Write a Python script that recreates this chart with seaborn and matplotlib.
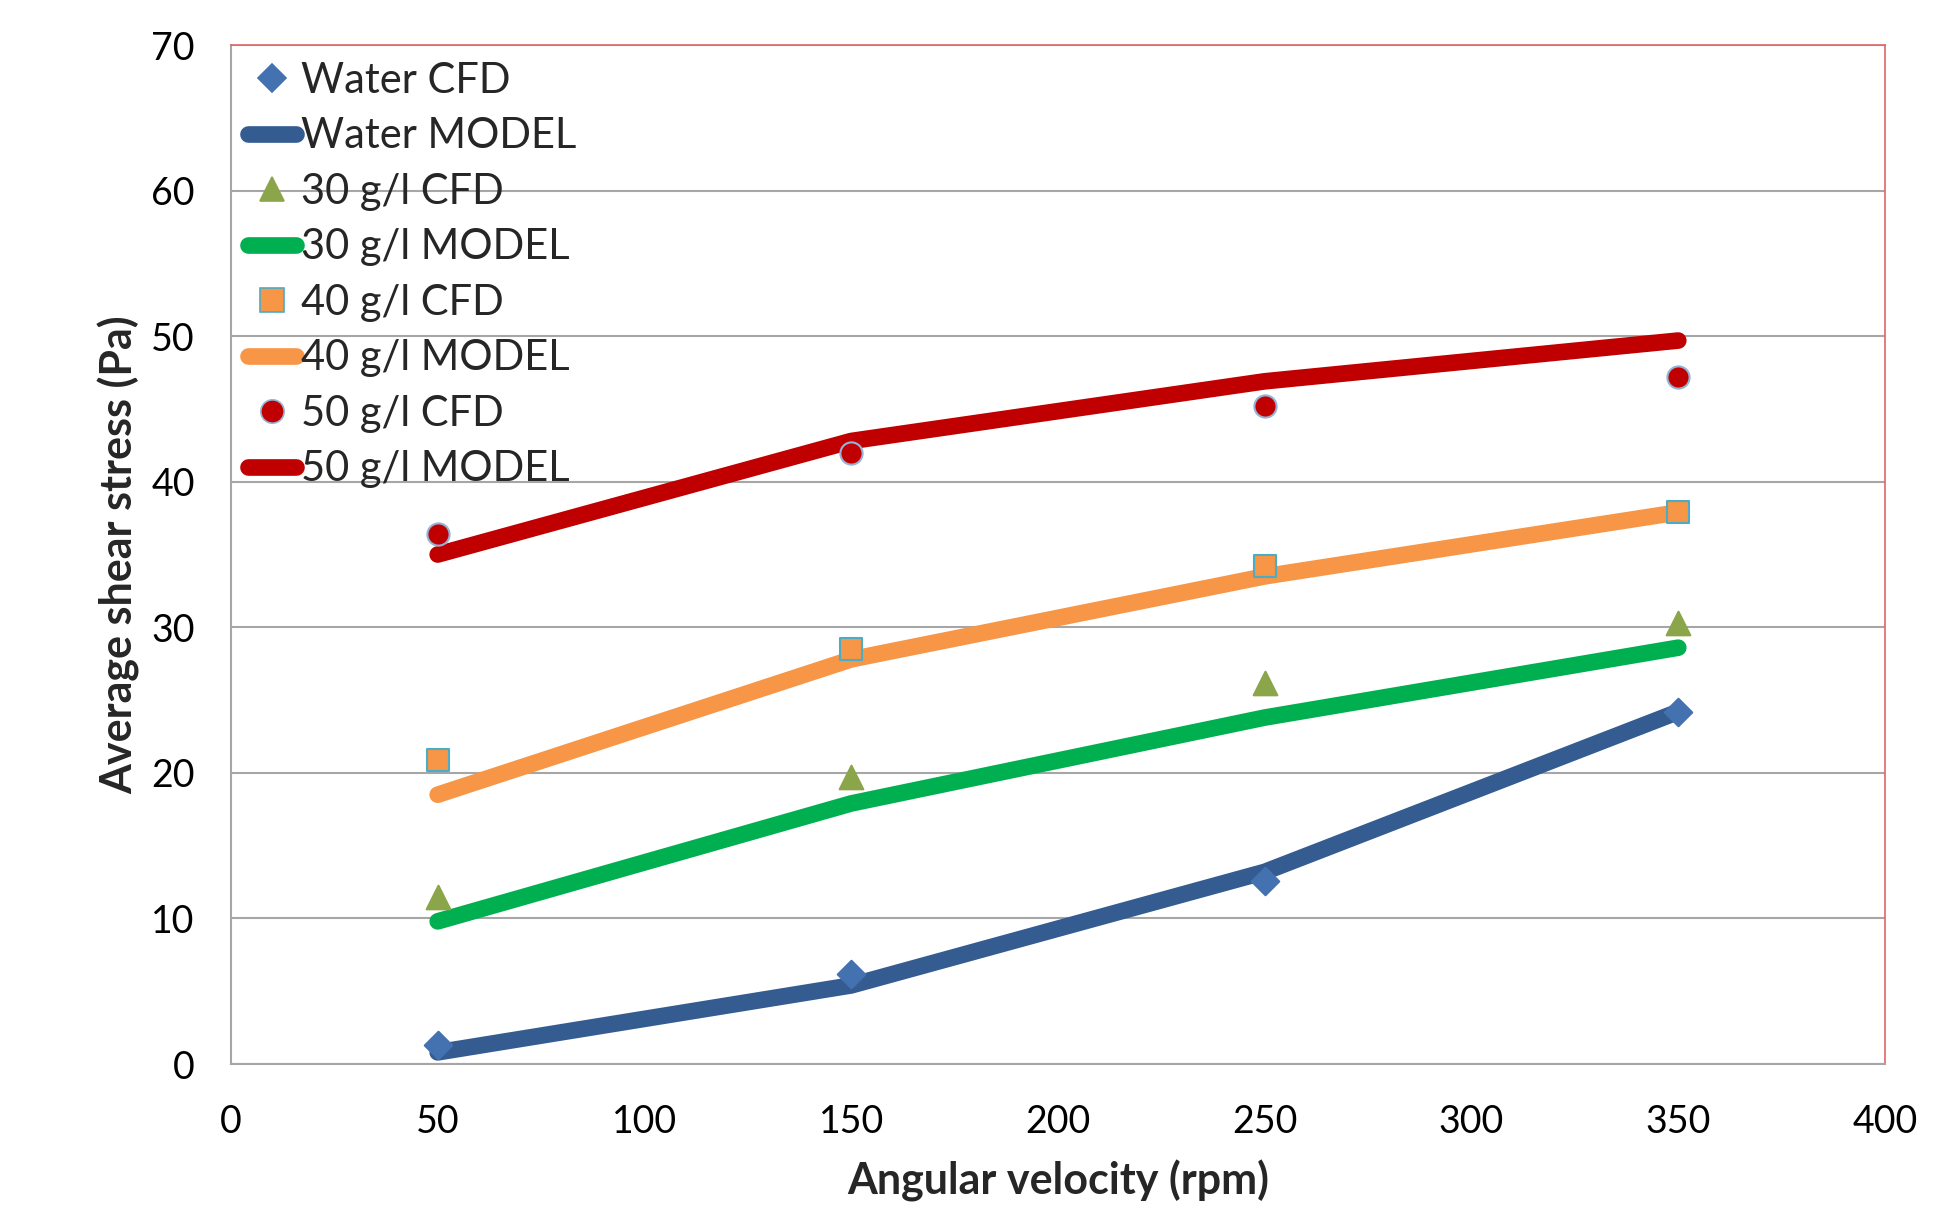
import matplotlib
matplotlib.use("Agg")
import matplotlib.pyplot as plt
import seaborn as sns
import pandas as pd
from matplotlib.lines import Line2D

rpm = [50, 150, 250, 350]
water_cfd = [1.3, 6.2, 12.6, 24.2]
water_model = [0.8, 5.4, 13.2, 24.2]
g30_cfd = [11.5, 19.7, 26.2, 30.3]
g30_model = [9.8, 17.9, 23.8, 28.6]
g40_cfd = [20.9, 28.5, 34.2, 37.9]
g40_model = [18.5, 27.8, 33.5, 37.9]
g50_cfd = [36.4, 42.0, 45.2, 47.2]
g50_model = [35.0, 42.8, 46.9, 49.7]

labels = ["Water", "30 g/l", "40 g/l", "50 g/l"]
xticks = [0, 50, 100, 150, 200, 250, 300, 350, 400]
yticks = [0, 10, 20, 30, 40, 50, 60, 70]

sns.set_theme(style="white")
plt.rcParams['font.family'] = ['Lato', 'DejaVu Sans']

fig = plt.figure(figsize=(19.52, 12.08), dpi=100)
ax = fig.add_axes([0.1183, 0.1192, 0.8474, 0.8435])

series = [
    ("Water", water_cfd, water_model, "D", "#4472B0", "#4472B0", "#345C91", 14),
    ("30 g/l", g30_cfd, g30_model, "^", "#8BA54A", "#8BA54A", "#00B050", 17),
    ("40 g/l", g40_cfd, g40_model, "s", "#F79646", "#4BACC6", "#F79646", 16),
    ("50 g/l", g50_cfd, g50_model, "o", "#C00000", "#95B3D7", "#C00000", 16),
]

LW = 12
handles = []
names = []
for name, cfd, model, mk, fc, ec, lc, ms in series:
    dfm = pd.DataFrame({"x": rpm, "y": model})
    sns.lineplot(data=dfm, x="x", y="y", ax=ax, color=lc, linewidth=LW,
                 solid_capstyle="round", solid_joinstyle="round", zorder=2)
for name, cfd, model, mk, fc, ec, lc, ms in series:
    dfc = pd.DataFrame({"x": rpm, "y": cfd})
    sns.scatterplot(data=dfc, x="x", y="y", ax=ax, marker=mk, color=fc,
                    edgecolor=ec, linewidth=1.5, s=ms**2, zorder=3)
    handles.append(Line2D([], [], linestyle="none", marker=mk, markersize=ms * 1.05,
                          markerfacecolor=fc, markeredgecolor=ec, markeredgewidth=1.2))
    names.append(f"{name} CFD")
    handles.append(Line2D([], [], color=lc, linewidth=LW, solid_capstyle="round"))
    names.append(f"{name} MODEL")

ax.set_xlim(0, 400)
ax.set_ylim(0, 70)
ax.set_xticks(xticks)
ax.set_yticks(yticks)
ax.tick_params(axis="both", labelsize=27, colors="#000000", length=0)
ax.tick_params(axis="x", pad=29)
ax.tick_params(axis="y", pad=26)
ax.yaxis.grid(True, color="#A6A6A6", linewidth=1.5)
ax.xaxis.grid(False)
for side in ["left", "bottom"]:
    ax.spines[side].set_color("#A6A6A6")
    ax.spines[side].set_linewidth(1.5)
for side in ["top", "right"]:
    ax.spines[side].set_color("#E06666")
    ax.spines[side].set_linewidth(1.2)

ax.set_xlabel("Angular velocity (rpm)", fontsize=31, fontweight="bold", labelpad=14)
ax.set_ylabel("Average shear stress (Pa)", fontsize=31, fontweight="bold", labelpad=8)

leg = ax.legend(handles, names, loc="upper left", frameon=False, fontsize=30,
                handlelength=1.15, handletextpad=0.13, labelspacing=0.42,
                borderaxespad=0.0, bbox_to_anchor=(0.0, 1.0))

fig.savefig("out.png", dpi=100, facecolor="white")
